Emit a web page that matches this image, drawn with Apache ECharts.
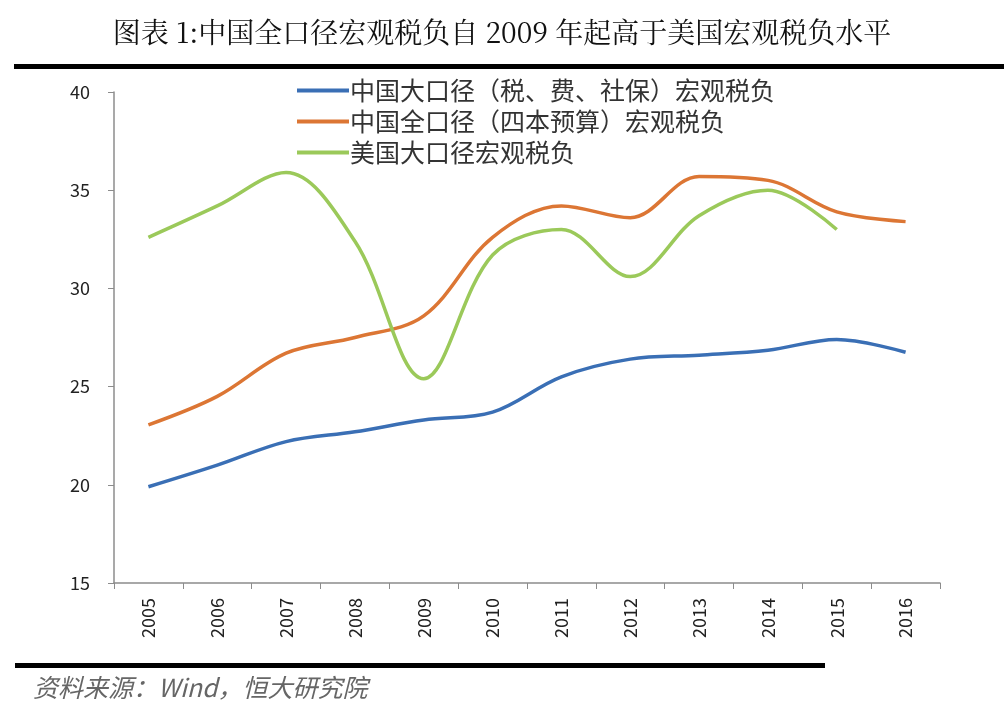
<!DOCTYPE html>
<html><head><meta charset="utf-8">
<script src="https://cdn.jsdelivr.net/npm/echarts@6/dist/echarts.min.js"></script>
<style>html,body{margin:0;padding:0;background:#fff}#c{width:1004px;height:720px}</style>
</head><body><div id="c"></div>
<script>
const years = ['2005','2006','2007','2008','2009','2010','2011','2012','2013','2014','2015','2016'];
const chinaBroad = [19.9, 21.0, 22.2, 22.7, 23.3, 23.7, 25.5, 26.4, 26.6, 26.85, 27.4, 26.75];
const chinaFull = [23.05, 24.5, 26.7, 27.5, 28.6, 32.6, 34.2, 33.6, 35.7, 35.5, 33.9, 33.4];
const usBroad = [32.6, 34.2, 35.9, 32.4, 25.4, 31.7, 33.0, 30.6, 33.7, 35.0, 33.0, null];
const names = ['中国大口径（税、费、社保）宏观税负', '中国全口径（四本预算）宏观税负', '美国大口径宏观税负'];

const chart = echarts.init(document.getElementById('c'));
const font = '"Noto Sans CJK SC", "Noto Sans", sans-serif';
chart.setOption({
  backgroundColor: '#fff',
  animation: false,
  title: {
    text: '图表 1:中国全口径宏观税负自 2009 年起高于美国宏观税负水平',
    left: 'center', top: 13,
    textStyle: {fontFamily: '"Noto Serif CJK SC", "Liberation Serif", "Noto Sans CJK SC", serif', fontSize: 28, fontWeight: 'normal', color: '#111'}
  },
  legend: {
    orient: 'vertical', left: 292, top: 73, itemGap: 6,
    itemWidth: 52, itemHeight: 4, icon: 'rect',
    textStyle: {fontFamily: font, fontSize: 25, lineHeight: 25, color: '#333', padding: [0,0,0,-4]},
    data: names
  },
  grid: {left: 114, right: 64, top: 92, bottom: 137},
  xAxis: {
    type: 'category', data: years, boundaryGap: true,
    axisLine: {lineStyle: {color: '#8c8c8c', width: 1.5}},
    axisTick: {show: true, length: 6, lineStyle: {color: '#8c8c8c'}},
    axisLabel: {rotate: 90, fontFamily: font, fontSize: 18, color: '#222', margin: 15}
  },
  yAxis: {
    type: 'value', min: 15, max: 40, interval: 5,
    axisLine: {show: true, lineStyle: {color: '#8c8c8c', width: 1.5}},
    axisTick: {show: true, length: 6, lineStyle: {color: '#8c8c8c'}},
    splitLine: {show: false},
    axisLabel: {fontFamily: font, fontSize: 18, color: '#222', margin: 24}
  },
  series: [
    {name: names[0], type: 'line', data: chinaBroad, smooth: 0.35, showSymbol: false,
     lineStyle: {width: 3.5, color: '#3a6fb5'}, itemStyle: {color: '#3a6fb5'}},
    {name: names[1], type: 'line', data: chinaFull, smooth: 0.35, showSymbol: false,
     lineStyle: {width: 3.5, color: '#dc7634'}, itemStyle: {color: '#dc7634'}},
    {name: names[2], type: 'line', data: usBroad, smooth: 0.35, showSymbol: false,
     lineStyle: {width: 3.5, color: '#9bc95a'}, itemStyle: {color: '#9bc95a'}}
  ],
  graphic: [
    {type: 'rect', shape: {x: 14, y: 64, width: 990, height: 5}, style: {fill: '#000'}},
    {type: 'rect', shape: {x: 15, y: 663, width: 810, height: 5}, style: {fill: '#000'}},
    {type: 'text', left: 33, top: 675,
     style: {text: '资料来源：Wind，恒大研究院', font: 'italic 25px "Noto Sans CJK SC", sans-serif', fill: '#666'}}
  ]
});
</script></body></html>
